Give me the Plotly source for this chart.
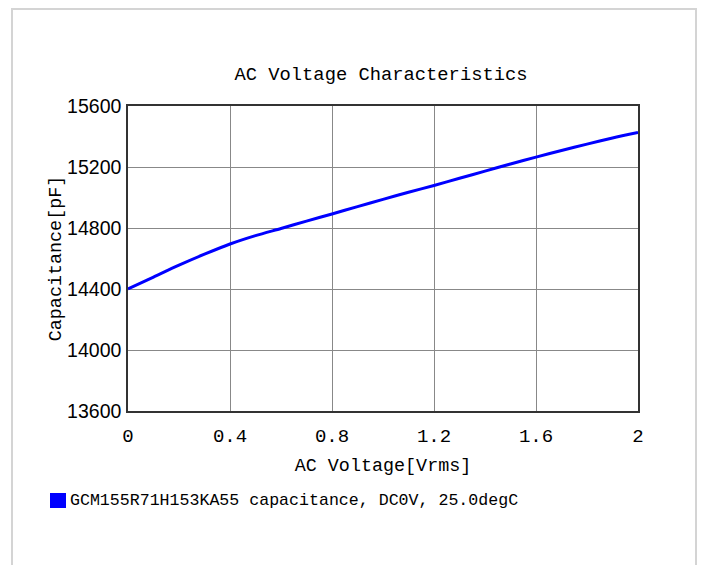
import plotly.graph_objects as go

# Data
voltage = [0.0, 0.1, 0.2, 0.3, 0.4, 0.5, 0.6, 0.7, 0.8, 0.9, 1.0,
           1.1, 1.2, 1.3, 1.4, 1.5, 1.6, 1.7, 1.8, 1.9, 2.0]
capacitance = [14400, 14478, 14556, 14628, 14695, 14750, 14797, 14845, 14892, 14940, 14988,
               15034, 15079, 15126, 15173, 15220, 15265, 15308, 15350, 15390, 15426]
x_ticks = [0, 0.4, 0.8, 1.2, 1.6, 2]
x_tick_labels = ["0", "0.4", "0.8", "1.2", "1.6", "2"]
y_ticks = [13600, 14000, 14400, 14800, 15200, 15600]
y_tick_labels = ["13600", "14000", "14400", "14800", "15200", "15600"]
series_name = "GCM155R71H153KA55 capacitance, DC0V, 25.0degC"

# page has an 8px body margin; work in screenshot pixels and shift
OFF = 8
W, H = 709 - OFF, 565 - OFF
L, R, T, B = 128 - OFF, 71, 106 - OFF, 565 - 411
pw, ph = W - L - R, H - T - B

def px_x(px):
    return (px - OFF - L) / pw

def px_y(py):
    return (H - B - (py - OFF)) / ph

mono = "Liberation Mono"

fig = go.Figure()
fig.add_trace(go.Scatter(
    x=voltage, y=capacitance, mode="lines",
    line=dict(color="#0000ff", width=3, shape="spline", smoothing=0.8),
    name=series_name, showlegend=False,
))

fig.update_layout(
    width=W, height=H,
    margin=dict(l=L, r=R, t=T, b=B),
    paper_bgcolor="white", plot_bgcolor="white",
    title=dict(text="AC Voltage Characteristics", x=(381 - OFF) / W,
               xanchor="center", y=1 - (73 - OFF) / H, yanchor="middle",
               font=dict(family=mono, size=18.8, color="#000")),
    xaxis=dict(range=[0, 2], tickvals=x_ticks, ticktext=x_tick_labels,
               showgrid=True, gridcolor="#888", gridwidth=1,
               showline=True, linecolor="#333", linewidth=1.5, mirror=True,
               zeroline=False, ticks="", ticklabelstandoff=6,
               tickfont=dict(family=mono, size=19, color="#000"),
               title=dict(text="AC Voltage[Vrms]", standoff=12,
                          font=dict(family=mono, size=18.4, color="#000"))),
    yaxis=dict(range=[13600, 15600], tickvals=y_ticks, ticktext=y_tick_labels,
               showgrid=True, gridcolor="#888", gridwidth=1,
               showline=True, linecolor="#333", linewidth=1.5, mirror=True,
               zeroline=False, ticks="", ticklabelstandoff=1,
               tickfont=dict(family="Liberation Sans", size=19.5, color="#000"),
               title=dict(text="Capacitance[pF]", standoff=1,
                          font=dict(family=mono, size=18.4, color="#000"))),
)

# Legend as square + text
fig.add_shape(type="rect", xref="paper", yref="paper",
              x0=px_x(50), x1=px_x(66), y0=px_y(508), y1=px_y(493),
              fillcolor="#0000ff", line=dict(width=0))
fig.add_annotation(text=series_name, xref="paper", yref="paper",
                   x=px_x(68), y=px_y(501), xanchor="left", yanchor="middle",
                   showarrow=False, font=dict(family=mono, size=16.6, color="#000"))

# Outer light frame
fig.add_shape(type="rect", xref="paper", yref="paper",
              x0=px_x(12), x1=px_x(696), y0=px_y(580), y1=px_y(9),
              fillcolor="rgba(0,0,0,0)", line=dict(color="#d4d4d4", width=2), layer="below")

fig.write_html("out.html")
